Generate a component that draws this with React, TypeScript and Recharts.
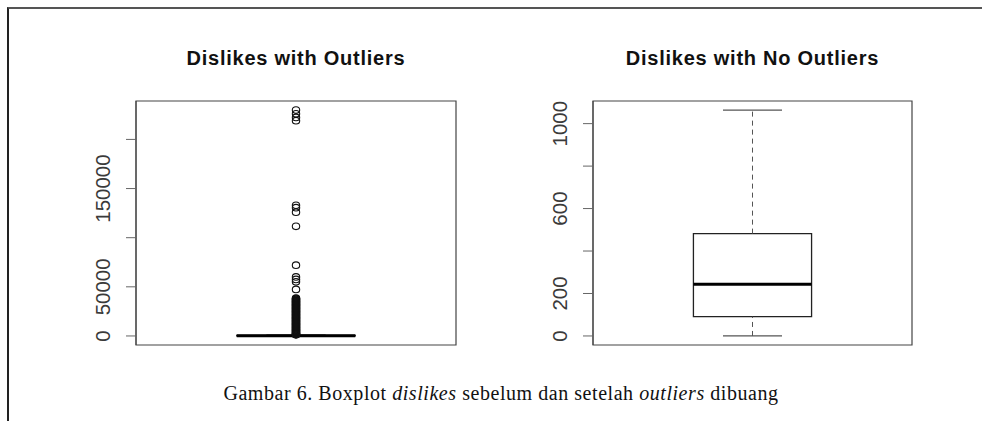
import React from 'react';
import { ComposedChart, XAxis, YAxis, Scatter, ReferenceArea, ReferenceLine } from 'recharts';

// five-number summaries: min, q1, median, q3, upper whisker
const withOutliersStats = [0, 91, 244, 482, 1064];
const noOutliersStats = [0, 91, 244, 482, 1064];

// outliers of the raw dislikes column (the low ones form a solid stack)
const outlierValues = [
  229900, 226000, 222400, 219100,
  133000, 130500, 126000,
  111600, 72000,
  60100, 57500, 55100, 47400,
  38600, 38100, 37500, 37000, 36400, 35900, 35300, 34800, 34200, 33700,
  33100, 32600, 32000, 31500, 30900, 30400, 29800, 29300, 28700, 28200,
  27600, 27100, 26500, 26000, 25400, 24900, 24300, 23800, 23200, 22700,
  22100, 21600, 21000, 20500, 19900, 19400, 18800, 18300, 17700, 17200,
  16600, 16100, 15500, 15000, 14400, 13900, 13300, 12800, 12200, 11700,
  11100, 10600, 10000, 9500, 8900, 8400, 7800, 7300, 6700, 6200,
  5700, 5200, 4700, 4200, 3700, 3200, 2800, 2400, 2000, 1700, 1400, 1150,
];
const noOutlierValues: number[] = [];

const withOutliersTicks = [0, 50000, 100000, 150000, 200000];
const withOutliersLabels = [0, 50000, 150000];
const noOutliersTicks = [0, 200, 400, 600, 800, 1000];
const noOutliersLabels = [0, 200, 600, 1000];

const titles = ['Dislikes with Outliers', 'Dislikes with No Outliers'];
const caption = ['Gambar 6. Boxplot ', 'dislikes', ' sebelum dan setelah ', 'outliers', ' dibuang'];

const X_DOMAIN: [number, number] = [0.46, 1.54];
const AXIS_W = 60;

interface PanelProps {
  stats: number[];
  outliers: number[];
  ticks: number[];
  labels: number[];
  title: string;
  chartLeft: number;
  chartWidth: number;
  plotLeft: number;
  plotRight: number;
}

function RotatedTick(props: any) {
  const { x, y, payload, labels } = props;
  if (!labels.includes(payload.value)) return <g />;
  return (
    <text
      x={x}
      y={y}
      transform={`rotate(-90 ${x} ${y})`}
      textAnchor="middle"
      dominantBaseline="central"
      fontSize={20.5}
      fill="#3a3a3a"
      fontFamily="'Liberation Sans', Arial, sans-serif"
    >
      {payload.value}
    </text>
  );
}

function Circle(props: any) {
  const { cx, cy } = props;
  return <ellipse cx={cx} cy={cy} rx={3.7} ry={3.3} fill="none" stroke="#111" strokeWidth={1.1} />;
}

function BoxPanel({ stats, outliers, ticks, labels, title, chartLeft, chartWidth, plotLeft, plotRight }: PanelProps) {
  const [lo, q1, med, q3, hi] = stats;
  const all = [lo, hi, ...outliers];
  const dMin = Math.min(...all);
  const dMax = Math.max(...all);
  const pad = (dMax - dMin) * 0.04;
  const yDomain: [number, number] = [dMin - pad, dMax + pad];
  const points = outliers.map((v) => ({ x: 1, y: v }));
  const center = (plotLeft + plotRight) / 2;

  return (
    <>
      <div
        style={{
          position: 'absolute',
          left: center - 200,
          width: 400,
          top: 48,
          textAlign: 'center',
          fontFamily: "'Liberation Sans', Arial, sans-serif",
          fontWeight: 'bold',
          fontSize: 20,
          letterSpacing: 0.75,
          lineHeight: '20px',
          color: '#111',
        }}
      >
        {title}
      </div>
      <div style={{ position: 'absolute', left: chartLeft, top: 0 }}>
        <ComposedChart
          width={chartWidth}
          height={421}
          margin={{ top: 101, bottom: 76, left: plotLeft - chartLeft - AXIS_W, right: chartLeft + chartWidth - plotRight }}
        >
          <XAxis type="number" dataKey="x" domain={X_DOMAIN} hide allowDataOverflow />
          <YAxis
            type="number"
            dataKey="y"
            domain={yDomain}
            ticks={ticks}
            interval={0}
            width={AXIS_W}
            allowDataOverflow
            tickSize={10}
            tickMargin={23}
            axisLine={{ stroke: '#444' }}
            tickLine={{ stroke: '#666' }}
            tick={<RotatedTick labels={labels} />}
          />
          <ReferenceArea
            x1={X_DOMAIN[0]}
            x2={X_DOMAIN[1]}
            y1={yDomain[0]}
            y2={yDomain[1]}
            fill="none"
            stroke="#444"
            strokeWidth={1.2}
            ifOverflow="visible"
          />
          <ReferenceLine segment={[{ x: 1, y: q3 }, { x: 1, y: hi }]} stroke="#555" strokeDasharray="5 4" ifOverflow="visible" />
          <ReferenceLine segment={[{ x: 1, y: lo }, { x: 1, y: q1 }]} stroke="#555" strokeDasharray="5 4" ifOverflow="visible" />
          <ReferenceLine segment={[{ x: 0.9, y: hi }, { x: 1.1, y: hi }]} stroke="#555" strokeWidth={1.2} ifOverflow="visible" />
          <ReferenceLine segment={[{ x: 0.9, y: lo }, { x: 1.1, y: lo }]} stroke="#555" strokeWidth={1.2} ifOverflow="visible" />
          <ReferenceArea x1={0.8} x2={1.2} y1={q1} y2={q3} fill="none" stroke="#222" strokeWidth={1.3} ifOverflow="visible" />
          <ReferenceLine segment={[{ x: 0.8, y: med }, { x: 1.2, y: med }]} stroke="#000" strokeWidth={3} ifOverflow="visible" />
          <Scatter data={points} dataKey="y" shape={<Circle />} isAnimationActive={false} />
        </ComposedChart>
      </div>
    </>
  );
}

export default function App() {
  return (
    <div style={{ position: 'absolute', left: 0, top: 0, width: 982, height: 421, background: '#fff', overflow: 'hidden' }}>
      <div
        style={{
          position: 'absolute',
          left: 7,
          top: 7,
          right: 0,
          bottom: 0,
          borderTop: '2px solid #555',
          borderLeft: '2px solid #222',
        }}
      />
      <BoxPanel
        stats={withOutliersStats}
        outliers={outlierValues}
        ticks={withOutliersTicks}
        labels={withOutliersLabels}
        title={titles[0]}
        chartLeft={0}
        chartWidth={491}
        plotLeft={136}
        plotRight={456}
      />
      <BoxPanel
        stats={noOutliersStats}
        outliers={noOutlierValues}
        ticks={noOutliersTicks}
        labels={noOutliersLabels}
        title={titles[1]}
        chartLeft={491}
        chartWidth={491}
        plotLeft={593}
        plotRight={912}
      />
      <div
        style={{
          position: 'absolute',
          left: 151,
          width: 700,
          top: 383,
          textAlign: 'center',
          fontFamily: "'Liberation Serif', 'Times New Roman', serif",
          fontSize: 20,
          letterSpacing: 0.55,
          lineHeight: '20px',
          color: '#111',
        }}
      >
        {caption[0]}
        <i>{caption[1]}</i>
        {caption[2]}
        <i>{caption[3]}</i>
        {caption[4]}
      </div>
    </div>
  );
}
